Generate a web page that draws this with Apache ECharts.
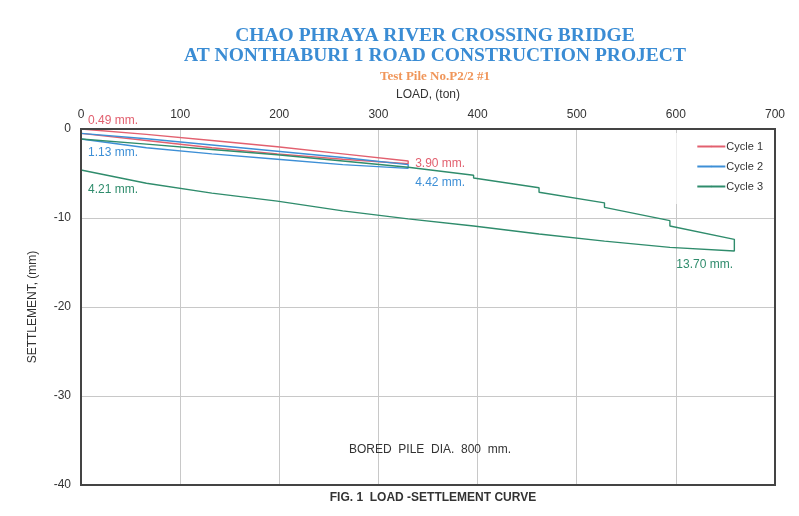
<!DOCTYPE html>
<html lang="en">
<head>
  <meta charset="UTF-8">
  <title>Load - settlement curve</title>
  <style>
    html, body {
      height: 100%;
      width: 100%;
      margin: 0;
      padding: 0;
      background: #fff;
    }
  </style>
  <script src="https://cdn.jsdelivr.net/npm/echarts@6/dist/echarts.min.js"></script>
</head>
<body>
<div id="main" style="width: 100%; height: 100%;"></div>

<script>
  // load (ton) / settlement (mm), loading then unloading for each cycle
  var cycle1Load = [0, 66, 132, 198, 264, 330, 330, 264, 198, 132, 66, 0];
  var cycle1Settle = [0, -0.6, -1.3, -2.0, -2.8, -3.6, -3.9, -3.4, -2.8, -2.1, -1.3, -0.49];

  var cycle2Load = [0, 66, 132, 198, 264, 330, 330, 264, 198, 132, 66, 0];
  var cycle2Settle = [-0.49, -1.1, -1.8, -2.5, -3.2, -4.0, -4.42, -4.0, -3.4, -2.8, -2.1, -1.13];

  var cycle3Load = [0, 66, 132, 198, 264, 330, 396, 396, 462, 462, 528, 528, 594, 594, 659, 659,
                    594, 528, 462, 396, 330, 264, 198, 132, 66, 0];
  var cycle3Settle = [-1.13, -1.7, -2.3, -2.9, -3.6, -4.3, -5.2, -5.5, -6.6, -7.1, -8.3, -8.8, -10.3, -10.9, -12.4, -13.7,
                      -13.3, -12.6, -11.8, -10.9, -10.1, -9.2, -8.1, -7.2, -6.1, -4.6];

  var xTicks = [0, 700, 100];
  var yTicks = [-40, 0, 10];

  function pairs(xs, ys) {
    return xs.map(function (x, i) { return [x, ys[i]]; });
  }

  var red = '#e2606f';
  var blue = '#3d8fd6';
  var green = '#2f8c6c';

  function note(coord, text, color, offset) {
    return {
      coord: coord,
      symbolSize: 0,
      label: {
        show: true,
        formatter: text,
        color: color,
        fontSize: 12,
        fontFamily: 'Liberation Sans',
        position: 'right',
        offset: offset
      }
    };
  }

  var chart = echarts.init(document.getElementById('main'));

  var option = {
    animation: false,
    title: [
      {
        text: 'CHAO PHRAYA RIVER CROSSING BRIDGE\nAT NONTHABURI 1 ROAD CONSTRUCTION PROJECT',
        left: 430,
        textAlign: 'center',
        top: 21,
        textStyle: {
          color: '#3a8cd4',
          fontFamily: 'Liberation Serif',
          fontWeight: 'bold',
          fontSize: 19.5,
          lineHeight: 20
        }
      },
      {
        text: 'Test Pile No.P2/2 #1',
        left: 430,
        textAlign: 'center',
        top: 65,
        textStyle: {
          color: '#f0965a',
          fontFamily: 'Liberation Serif',
          fontWeight: 'bold',
          fontSize: 13
        }
      },
      {
        text: 'BORED  PILE  DIA.  800  mm.',
        left: 425,
        textAlign: 'center',
        top: 439,
        textStyle: {
          color: '#333',
          fontFamily: 'Liberation Sans',
          fontWeight: 'normal',
          fontSize: 12
        }
      },
      {
        text: 'FIG. 1  LOAD -SETTLEMENT CURVE',
        left: 428,
        textAlign: 'center',
        top: 487,
        textStyle: {
          color: '#333',
          fontFamily: 'Liberation Sans',
          fontWeight: 'bold',
          fontSize: 12
        }
      }
    ],
    legend: {
      right: 26,
      top: 133,
      orient: 'vertical',
      backgroundColor: '#fff',
      padding: [8, 10, 12, 20],
      itemWidth: 28,
      itemHeight: 2,
      itemGap: 9,
      textStyle: { fontFamily: 'Liberation Sans', fontSize: 11, color: '#333', padding: [0, 0, 0, -4] },
      data: ['Cycle 1', 'Cycle 2', 'Cycle 3']
    },
    grid: {
      left: 81,
      right: 24,
      top: 129,
      bottom: 31
    },
    xAxis: {
      type: 'value',
      position: 'top',
      min: xTicks[0],
      max: xTicks[1],
      interval: xTicks[2],
      name: 'LOAD, (ton)',
      nameLocation: 'middle',
      nameGap: 28,
      nameTextStyle: { fontFamily: 'Liberation Sans', fontSize: 12, color: '#333' },
      axisLine: { show: true, onZero: false, lineStyle: { color: '#444', width: 2 } },
      axisTick: { show: false },
      axisLabel: { fontFamily: 'Liberation Sans', fontSize: 12, color: '#333', margin: 8 },
      splitLine: { show: true, lineStyle: { color: '#c8c8c8', width: 1 } }
    },
    yAxis: {
      type: 'value',
      min: yTicks[0],
      max: yTicks[1],
      interval: yTicks[2],
      name: 'SETTLEMENT, (mm)',
      nameLocation: 'middle',
      nameGap: 42,
      nameTextStyle: { fontFamily: 'Liberation Sans', fontSize: 12, color: '#333' },
      axisLine: { show: true, onZero: false, lineStyle: { color: '#444', width: 2 } },
      axisTick: { show: false },
      axisLabel: { fontFamily: 'Liberation Sans', fontSize: 12, color: '#333', margin: 10 },
      splitLine: { show: true, lineStyle: { color: '#c8c8c8', width: 1 } }
    },
    graphic: [
      {
        type: 'rect',
        shape: { x: 81, y: 129, width: 694, height: 356 },
        style: { fill: 'none', stroke: '#444', lineWidth: 2 },
        silent: true,
        z: 10
      }
    ],
    series: [
      {
        name: 'Cycle 1',
        type: 'line',
        symbol: 'none',
        color: red,
        lineStyle: { width: 1.4 },
        data: pairs(cycle1Load, cycle1Settle),
        markPoint: {
          data: [
            note([0, 0], '0.49 mm.', red, [2, -8]),
            note([330, -3.9], '3.90 mm.', red, [2, 0])
          ]
        }
      },
      {
        name: 'Cycle 2',
        type: 'line',
        symbol: 'none',
        color: blue,
        lineStyle: { width: 1.4 },
        data: pairs(cycle2Load, cycle2Settle),
        markPoint: {
          data: [
            note([0, -1.13], '1.13 mm.', blue, [2, 14]),
            note([330, -4.42], '4.42 mm.', blue, [2, 14])
          ]
        }
      },
      {
        name: 'Cycle 3',
        type: 'line',
        symbol: 'none',
        color: green,
        lineStyle: { width: 1.4 },
        data: pairs(cycle3Load, cycle3Settle),
        markPoint: {
          data: [
            note([0, -4.6], '4.21 mm.', green, [2, 20]),
            note([659, -13.7], '13.70 mm.', green, [-63, 14])
          ]
        }
      }
    ]
  };

  chart.setOption(option);
</script>
</body>
</html>
